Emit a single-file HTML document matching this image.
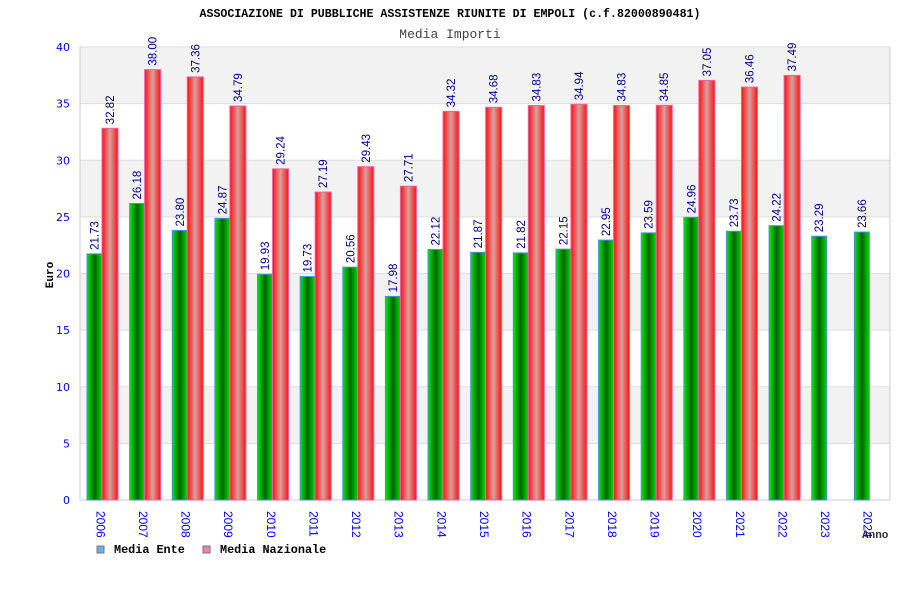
<!DOCTYPE html>
<html><head><meta charset="utf-8"><style>
body{margin:0;background:#fff;}
svg{display:block;font-family:"Liberation Sans","DejaVu Sans",sans-serif;}
</style></head><body>
<svg id="c" width="900" height="600">
<defs>
<linearGradient id="gG" x1="0" x2="1"><stop offset="0" stop-color="#00ee00"/><stop offset="0.5" stop-color="#006400"/><stop offset="1" stop-color="#00dd00"/></linearGradient>
<linearGradient id="gR" x1="0" x2="1"><stop offset="0" stop-color="#ff1010"/><stop offset="0.5" stop-color="#d8a0a0"/><stop offset="1" stop-color="#ff1010"/></linearGradient>
</defs>
<text x="450" y="17" text-anchor="middle" font-size="11.6" font-weight="bold" font-family="Liberation Mono, monospace">ASSOCIAZIONE DI PUBBLICHE ASSISTENZE RIUNITE DI EMPOLI (c.f.82000890481)</text>
<text x="450" y="38" text-anchor="middle" font-size="13" fill="#444" font-family="Liberation Mono, monospace">Media Importi</text>
<text transform="translate(53,275) rotate(-90)" text-anchor="middle" font-size="11" font-weight="bold" font-family="Liberation Mono, monospace">Euro</text>
<text x="862" y="538" font-size="11" font-weight="bold" fill="#333" font-family="Liberation Mono, monospace">Anno</text>
<g id="grid"></g><g id="bars"></g>
<g>
<rect x="97" y="546" width="7" height="7" fill="#6aaef0" stroke="#777"/>
<text x="114" y="553" font-size="11.8" font-weight="bold" font-family="Liberation Mono, monospace">Media Ente</text>
<rect x="203" y="546" width="7" height="7" fill="#f080b0" stroke="#777"/>
<text x="220" y="553" font-size="11.8" font-weight="bold" font-family="Liberation Mono, monospace">Media Nazionale</text>
</g>
</svg>
<script>
const years=["2006","2007","2008","2009","2010","2011","2012","2013","2014","2015","2016","2017","2018","2019","2020","2021","2022","2023","2024"];
const ente=[21.73,26.18,23.80,24.87,19.93,19.73,20.56,17.98,22.12,21.87,21.82,22.15,22.95,23.59,24.96,23.73,24.22,23.29,23.66];
const naz=[32.82,38.00,37.36,34.79,29.24,27.19,29.43,27.71,34.32,34.68,34.83,34.94,34.83,34.85,37.05,36.46,37.49,null,null];
const yTicks=[0,5,10,15,20,25,30,35,40];
const NS="http://www.w3.org/2000/svg";
const L=80,R=890,T=47,B=500,yMax=40;
const y=v=>B-(v/yMax)*(B-T);
const gw=(R-L)/years.length;
const x=i=>L+i*gw;
function mk(t,a,p){const e=document.createElementNS(NS,t);for(const k in a)e.setAttribute(k,a[k]);p.appendChild(e);return e;}
const grid=document.getElementById('grid'),bars=document.getElementById('bars');
for(let k=0;k<yTicks.length-1;k++){
 if(k%2===1){const r=mk('rect',{x:L,y:y(yTicks[k+1]),width:R-L,height:y(yTicks[k])-y(yTicks[k+1]),fill:'#f2f2f2'},grid);
 
 }
}
yTicks.forEach(v=>{
 const l=mk('line',{x1:L,x2:R,y1:y(v),y2:y(v),stroke:'#ddd'},grid);
 
 
 const t=mk('text',{x:70,y:y(v)+4,'text-anchor':'end','font-size':11,fill:'#0000ee','font-family':'DejaVu Sans, sans-serif'},grid);t.textContent=v;
 
 
});
const ax=mk('path',{d:`M${L},${T}V${B}H${R}V${T}`,fill:'none',stroke:'#ccc'},grid);


years.forEach((yr,i)=>{
 const t=mk('text',{transform:`translate(${x(i)+gw/2-5},${511}) rotate(90)`,'font-size':12,fill:'#0000ee'},grid);t.textContent=yr;
 
 
 function bar(v,off,w,fill,stroke,nm){
  if(v==null)return;
  const r=mk('rect',{x:x(i)+off,y:y(v),width:w,height:B-y(v),fill:fill,stroke:stroke,'stroke-width':1},bars);
  
  
  const tx=x(i)+off+w/2+4;
  const lb=mk('text',{transform:`translate(${tx},${y(v)-4}) rotate(-90)`,'font-size':11.5,fill:'#000080'},bars);lb.textContent=v.toFixed(2);
  
  
 }
 bar(ente[i],7,15,'url(#gG)','#4a90e0','bar-ente');
 bar(naz[i],22,16,'url(#gR)','#f060a0','bar-nazionale');
});
</script>
</body></html>
